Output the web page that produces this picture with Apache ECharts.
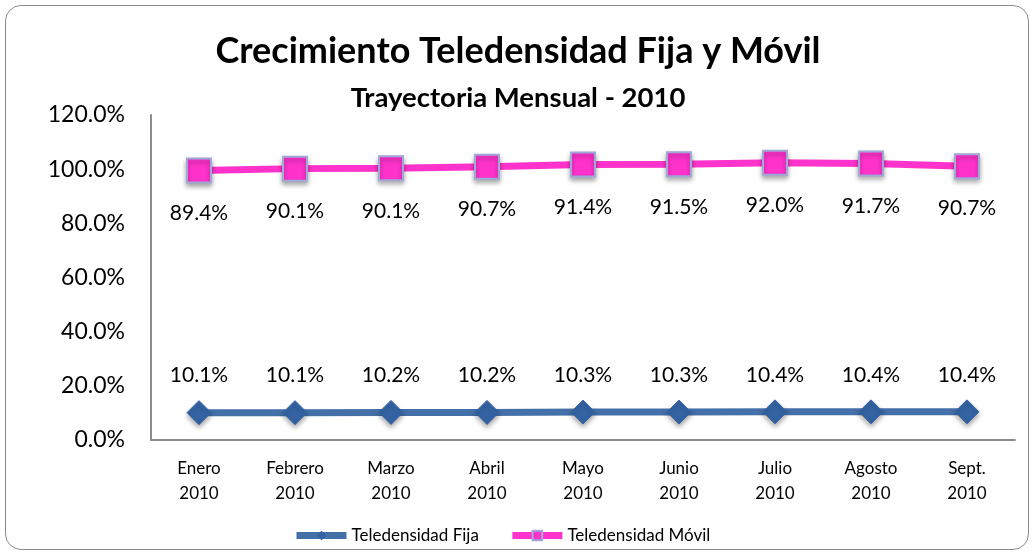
<!DOCTYPE html>
<html><head><meta charset="utf-8">
<script src="https://cdn.jsdelivr.net/npm/echarts@6/dist/echarts.min.js"></script>
<style>
html,body{margin:0;padding:0;background:#fff;}
#wrap{position:absolute;left:5px;top:5px;width:1024px;height:545px;border:1.5px solid #8c8c8c;border-radius:16px;box-sizing:border-box;}
#c{position:absolute;left:0;top:0;width:1036px;height:557px;}
</style></head>
<body>
<div id="wrap"></div>
<div id="c"></div>
<script>
const categories = ['Enero\n2010','Febrero\n2010','Marzo\n2010','Abril\n2010','Mayo\n2010','Junio\n2010','Julio\n2010','Agosto\n2010','Sept.\n2010'];
const fija = [10.1,10.1,10.2,10.2,10.3,10.3,10.4,10.4,10.4];
const movil = [89.4,90.1,90.1,90.7,91.4,91.5,92.0,91.7,90.7];
const yTicks = [0,20,40,60,80,100,120];

const FONT = 'Lato';
const chart = echarts.init(document.getElementById('c'));
chart.setOption({
  backgroundColor: 'transparent',
  animation: false,
  title: [
    {text:'Crecimiento Teledensidad Fija y Móvil', left:'center', top:28,
     textStyle:{fontFamily:FONT,fontWeight:'bold',fontSize:36,color:'#000'}},
    {text:'Trayectoria Mensual - 2010', left:'center', top:79,
     textStyle:{fontFamily:FONT,fontWeight:'bold',fontSize:27.5,color:'#000'}}
  ],
  grid:{left:151,right:21,top:115,bottom:117,containLabel:false},
  legend:{
    bottom:8, left:288, itemWidth:50, itemHeight:12, itemGap:30,
    textStyle:{fontFamily:FONT,fontSize:17,color:'#000'},
    lineStyle:{width:7},
    data:['Teledensidad Fija','Teledensidad Móvil']
  },
  xAxis:{
    type:'category', data:categories, boundaryGap:true,
    axisLine:{lineStyle:{color:'#8c8c8c',width:2}},
    axisTick:{show:false},
    axisLabel:{fontFamily:FONT,fontSize:17,color:'#000',lineHeight:25,margin:16}
  },
  yAxis:{
    type:'value', min:0, max:120, interval:20,
    axisLine:{show:true,lineStyle:{color:'#8c8c8c',width:2}},
    axisTick:{show:false},
    splitLine:{show:false},
    axisLabel:{fontFamily:FONT,fontSize:23,color:'#000',margin:26,
      formatter:v=>yTicks.includes(v)?v.toFixed(1)+'%':''}
  },
  series:[
    {name:'Teledensidad Fija', type:'line', stack:'t', data:fija,
     symbol:'diamond', symbolSize:[24,24],
     lineStyle:{color:'#4470A8',width:7},
     itemStyle:{color:'#3463A3',borderColor:'#3463A3',shadowColor:'rgba(0,0,0,0.35)',shadowBlur:5,shadowOffsetY:3},
     label:{show:true,position:'top',distance:14,fontFamily:FONT,fontSize:21,color:'#000',
       formatter:p=>fija[p.dataIndex].toFixed(1)+'%'}},
    {name:'Teledensidad Móvil', type:'line', stack:'t', data:movil,
     symbol:'rect', symbolSize:[24,24],
     lineStyle:{color:'#FF33CC',width:7},
     itemStyle:{color:'#FF33CC',borderColor:'#9FA8D6',borderWidth:2,shadowColor:'rgba(0,0,0,0.35)',shadowBlur:5,shadowOffsetY:3},
     label:{show:true,position:'bottom',distance:19,fontFamily:FONT,fontSize:21,color:'#000',
       formatter:p=>movil[p.dataIndex].toFixed(1)+'%'}}
  ]
});
</script>
</body></html>
